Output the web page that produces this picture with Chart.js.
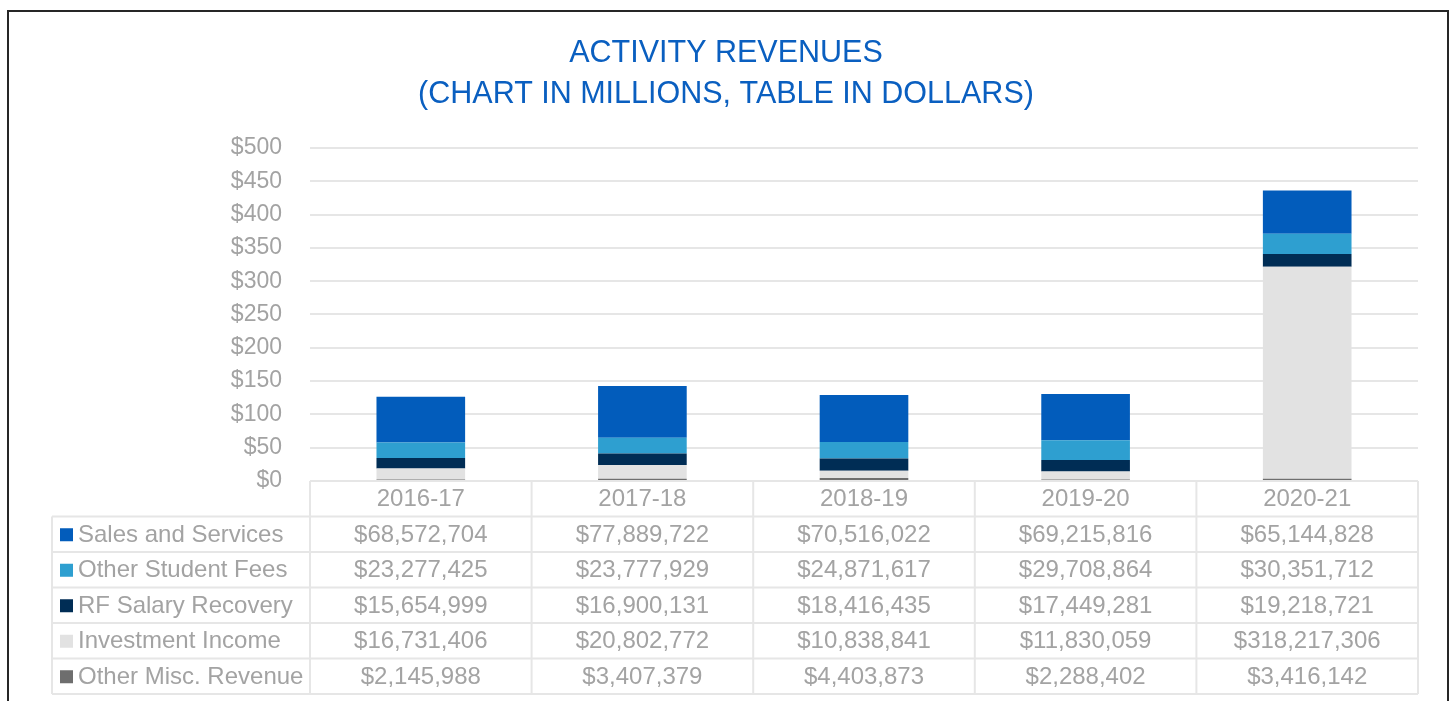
<!DOCTYPE html>
<html>
<head>
<meta charset="utf-8">
<script src="https://cdn.jsdelivr.net/npm/chart.js@4"></script>
<style>
  body { margin: 0; background: #fff; overflow: hidden; }
  #wrap { position: relative; width: 1452px; height: 701px; }
  #frame { position: absolute; left: 7px; top: 10px; width: 1438px; height: 800px;
           border: 2px solid #262626; pointer-events: none; }
</style>
</head>
<body>
<div id="wrap">
  <canvas id="revChart" width="1452" height="701"></canvas>
  <div id="frame"></div>
</div>
<script>
const years = ['2016-17', '2017-18', '2018-19', '2019-20', '2020-21'];
const salesServices = [68572704, 77889722, 70516022, 69215816, 65144828];
const otherStudentFees = [23277425, 23777929, 24871617, 29708864, 30351712];
const rfSalaryRecovery = [15654999, 16900131, 18416435, 17449281, 19218721];
const investmentIncome = [16731406, 20802772, 10838841, 11830059, 318217306];
const otherMiscRevenue = [2145988, 3407379, 4403873, 2288402, 3416142];

// table order (top row first); stacking goes the other way
const series = [
  { label: 'Sales and Services', values: salesServices, color: '#025cbb' },
  { label: 'Other Student Fees', values: otherStudentFees, color: '#2e9fd0' },
  { label: 'RF Salary Recovery', values: rfSalaryRecovery, color: '#002d55' },
  { label: 'Investment Income', values: investmentIncome, color: '#e2e2e2' },
  { label: 'Other Misc. Revenue', values: otherMiscRevenue, color: '#6e6e6e' }
];

const textGray = '#a3a3a3';
const lineGray = '#e6e6e6';
const fmt = v => '$' + v.toLocaleString('en-US');

const tablePlugin = {
  id: 'dataTable',
  afterDraw(chart) {
    const { ctx, chartArea } = chart;
    const x = chart.scales.x;
    const top = chartArea.bottom;
    const rowH = 35.5;
    const labelLeft = 52;
    const colW = (chartArea.right - chartArea.left) / years.length;
    const bottom = top + rowH * (series.length + 1);

    ctx.save();
    ctx.strokeStyle = lineGray;
    ctx.lineWidth = 2;
    ctx.beginPath();
    ctx.moveTo(chartArea.left, top);
    ctx.lineTo(chartArea.right, top);
    for (let r = 1; r <= series.length + 1; r++) {
      const y = top + r * rowH;
      ctx.moveTo(labelLeft, y);
      ctx.lineTo(chartArea.right, y);
    }
    ctx.moveTo(labelLeft, top + rowH);
    ctx.lineTo(labelLeft, bottom);
    for (let i = 0; i <= years.length; i++) {
      const xx = chartArea.left + i * colW;
      ctx.moveTo(xx, top);
      ctx.lineTo(xx, bottom);
    }
    ctx.stroke();

    ctx.font = '24px "Liberation Sans", Arial, sans-serif';
    ctx.fillStyle = textGray;
    ctx.textBaseline = 'middle';
    ctx.textAlign = 'center';
    years.forEach((yr, i) => {
      ctx.fillText(yr, x.getPixelForValue(i), top + rowH / 2 + 1);
    });
    series.forEach((s, r) => {
      const cy = top + (r + 1.5) * rowH + 1;
      ctx.fillStyle = s.color;
      ctx.fillRect(60, cy - 7, 13, 13);
      ctx.fillStyle = textGray;
      ctx.textAlign = 'left';
      ctx.fillText(s.label, 78, cy);
      ctx.textAlign = 'center';
      s.values.forEach((v, i) => {
        ctx.fillText(fmt(v), x.getPixelForValue(i), cy);
      });
    });
    ctx.restore();
  }
};

const datasets = series.slice().reverse().map(s => ({
  label: s.label,
  data: s.values.map(v => v / 1e6),
  backgroundColor: s.color,
  borderWidth: 0,
  barPercentage: 0.4,
  categoryPercentage: 1
}));

new Chart('revChart', {
  type: 'bar',
  data: { labels: years, datasets },
  plugins: [tablePlugin],
  options: {
    responsive: false,
    animation: false,
    layout: { padding: { top: 10, right: 34, bottom: 220, left: 34 } },
    plugins: {
      legend: { display: false },
      tooltip: { enabled: false },
      title: {
        display: true,
        text: ['ACTIVITY REVENUES', '(CHART IN MILLIONS, TABLE IN DOLLARS)'],
        color: '#0a5fc0',
        font: { family: '"Liberation Sans", Arial, sans-serif', size: 30.5, weight: 'normal', lineHeight: 1.344 },
        padding: { top: 23, bottom: 33 }
      }
    },
    scales: {
      x: { stacked: true, display: false },
      y: {
        stacked: true,
        min: 0,
        max: 500,
        border: { display: false },
        grid: { color: lineGray, lineWidth: 2, drawTicks: false },
        afterFit: scale => { scale.width = 276; },
        ticks: {
          stepSize: 50,
          padding: 28,
          color: textGray,
          font: { family: '"Liberation Sans", Arial, sans-serif', size: 23 },
          callback: v => '$' + v
        }
      }
    }
  }
});
</script>
</body>
</html>
